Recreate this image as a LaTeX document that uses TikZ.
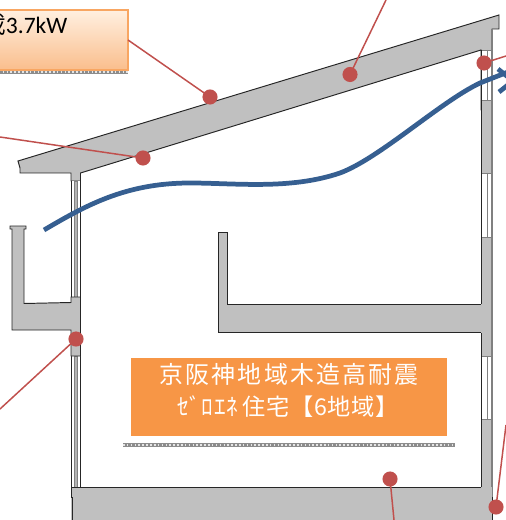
\documentclass[tikz,border=0pt]{standalone}
\usepackage{fontspec}
\setmainfont{Carlito}
\newfontfamily\jpfont[LetterSpace=9]{Noto Sans CJK JP}
\newfontfamily\jpfontb[LetterSpace=3]{Noto Sans CJK JP}
\definecolor{wallgray}{HTML}{C0C0C0}
\definecolor{leaderred}{HTML}{C0504D}
\definecolor{flowblue}{HTML}{365F91}
\definecolor{labelorange}{HTML}{F79646}
\tikzset{
    wall/.style={draw=black!85, fill=wallgray, line width=0.55pt},
    leader/.style={draw=leaderred, line width=0.85pt},
    pindot/.style={circle, fill=leaderred, inner sep=0pt, minimum size=8.6pt},
    flow/.style={draw=flowblue, line width=2.7pt},
    shadowbar/.style={line width=1.9pt, draw=black!45},
    shadowdots/.style={line width=0.8pt, draw=white!80!gray, dash pattern=on 0.9pt off 1.3pt}
}
\begin{document}
\begin{tikzpicture}[x=0.02cm,y=-0.02cm]
    \useasboundingbox (0,0) rectangle (506,520);
    \clip (0,0) rectangle (506,520);
    %% upper box
    \draw[shadowbar] (-5,72) to (128,72);
    \draw[shadowdots] (-5,72) to (128,72);
    \shade[top color=orange!12, bottom color=labelorange!62] (-5,10) rectangle (128,70);
    \draw[labelorange!85, line width=1pt] (-5,10) rectangle (128,70);
    \coordinate (boxEdge) at (128,40);
    \node[anchor=base west, inner sep=0pt, font=\fontsize{13.4}{15}\selectfont] (boxText) at (-18,34) {{\jpfontb 載}3.7kW};
    %% roof and walls
    \draw[wall] (18,161) to (499,15) to (499,29) to (492,29) to (492,110) to (481,110) to (481,50)
        to (80.5,173) to (80.5,181) to (71,181) to (71,173) to (20,173) to (20,168) to cycle;
    %% left wall
    \foreach \ya/\yb in {181/297,356/487}{
        \fill[white] (71,\ya) rectangle (80.5,\yb);
        \draw[black!85, line width=0.55pt] (71,\ya) to (71,\yb) (80.5,\ya) to (80.5,\yb);
        \draw[fill=gray!60, draw=black!50, line width=0.3pt] (74.5,\ya) rectangle (77.5,\yb);
    }
    %% balcony
    \draw[wall] (10,226) to (26,226) to (26,229) to (24,229) to (24,303.5) to (71,302.5) to (71,297)
        to (80.5,297) to (80.5,356) to (71,356) to (71,330) to (12,330) to (12,229) to (10,229) to cycle;
    %% right wall
    \fill[wallgray] (481,50) rectangle (492,497);
    \foreach \ya/\yb in {50/100,173/237,356/419}{
        \fill[white] (481,\ya) rectangle (491,\yb);
        \draw[gray, line width=0.4pt] (487,\ya) to (487,\yb) (481,\yb) to (491,\yb) (481,\ya) to (491,\ya);
    }
    \draw[black!85, line width=0.55pt] (481,50) to (481,304) (481,332) to (481,487);
    \draw[gray, line width=0.9pt] (492,29) to (492,497);
    %% floor
    \draw[wallgray, fill=wallgray] (218,304) rectangle (482,332);
    \draw[wall] (481,304) to (227,304) to (227,232) to (218,232) to (218,332) to (481,332);
    %% base slab
    \fill[wallgray] (71,487) rectangle (492,530);
    \draw[black!85, line width=0.55pt] (492,530) to (492,497) (481,487) to (71,487) to (71,497) to (72,497) to (72,530);
    %% label
    \draw[shadowbar] (123,445) to (455,445);
    \draw[shadowdots] (123,445) to (455,445);
    \fill[labelorange] (131,358) rectangle (447,436);
    \node[inner sep=0pt, text=white, font=\jpfont\fontsize{13.6}{16}\selectfont] (labelTop) at (289,374) {京阪神地域木造高耐震};
    \node[inner sep=0pt, text=white, font=\jpfontb\fontsize{13.2}{16}\selectfont] (labelBottom) at (288,407) {ｾﾞﾛｴﾈ\hspace{2.5pt}住宅【6地域】};
    %% flow
    \draw[flow] (44,230)
        .. controls (85,206) and (125,183) .. (190,183)
        .. controls (235,183) and (290,190) .. (340,173)
        .. controls (380,158) and (440,102) .. (480,83)
        .. controls (490,79) and (498,76) .. (508,72);
    \draw[flow] (498,69) to (513,81) to (499,92);
    %% leaders
    \coordinate (edgeA) at (0,137);
    \coordinate (edgeB) at (386,0);
    \coordinate (edgeC) at (506,56);
    \coordinate (edgeD) at (0,409);
    \coordinate (edgeE) at (394,520);
    \coordinate (edgeF) at (506,425);
    \node[pindot] (dotRoofA) at (210,97) {};
    \node[pindot] (dotRoofB) at (143,158) {};
    \node[pindot] (dotRoofC) at (350,74.5) {};
    \node[pindot] (dotTop) at (484,63) {};
    \node[pindot] (dotLeft) at (76,339) {};
    \node[pindot] (dotBase) at (390,479) {};
    \node[pindot] (dotCorner) at (496,507) {};
    \draw[leader] (boxEdge) to (dotRoofA.center);
    \draw[leader] (edgeA) to (dotRoofB.center);
    \draw[leader] (edgeB) to (dotRoofC.center);
    \draw[leader] (edgeC) to (dotTop.center);
    \draw[leader] (edgeD) to (dotLeft.center);
    \draw[leader] (edgeE) to (dotBase.center);
    \draw[leader] (edgeF) to (dotCorner.center);
\end{tikzpicture}
\end{document}
